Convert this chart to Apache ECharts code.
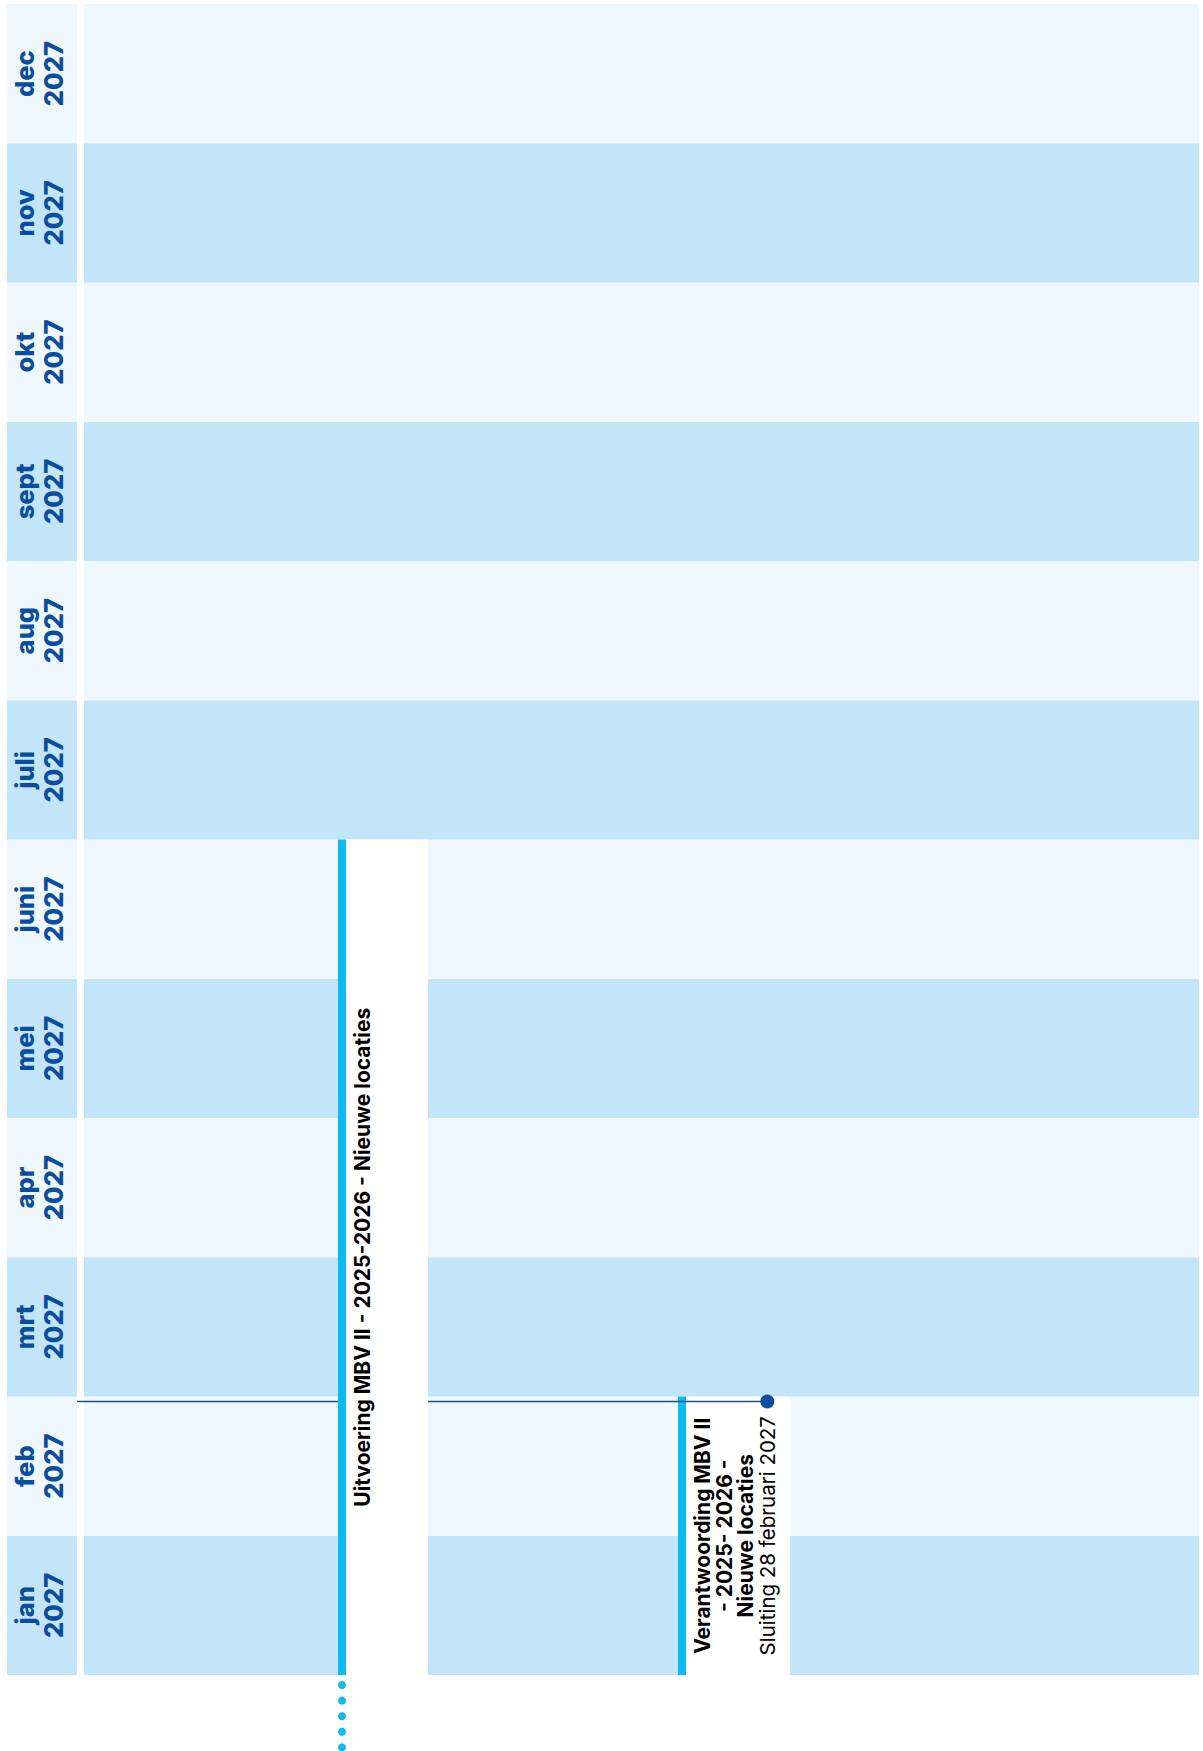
<!DOCTYPE html>
<html>
<head>
<meta charset="utf-8">
<title>Planning 2027</title>
<script src="https://cdn.jsdelivr.net/npm/echarts@6/dist/echarts.min.js"></script>
<style>
  html, body { margin: 0; padding: 0; background: #fff; }
  #main { width: 1203px; height: 1751px; }
</style>
</head>
<body>
<div id="main"></div>
<script>
// maanden op de verticale as (onderaan = jan)
const monthNames = ['jan', 'feb', 'mrt', 'apr', 'mei', 'juni', 'juli', 'aug', 'sept', 'okt', 'nov', 'dec'];
const year = 2027;

// taken
const taskTitles = [
  'Uitvoering MBV II - 2025-2026 - Nieuwe locaties',
  'Verantwoording MBV II\n- 2025- 2026 -\nNieuwe locaties'
];
const taskLanes = [0, 1];
const taskStarts = ['2025-09-01', '2027-01-01'];
const taskEnds = ['2027-06-30', '2027-02-28'];

// deadlines
const milestoneLabels = ['Sluiting 28 februari 2027'];
const milestoneDates = ['2027-02-28'];
const milestoneTasks = [1];

// stijl
const colors = {
  band: '#c2e5fa',
  bandLight: '#eff8fe',
  month: '#0a4d9f',
  bar: '#0bbbee',
  line: '#1d4f8f',
  dot: '#0b4ea2',
  text: '#000000'
};
const fontFamily = 'Inter, "Noto Sans", sans-serif';
const barWidth = 8;
const laneWidths = [82, 104];
const lineH = 21.5;

// datum -> positie op de as (1 eenheid = 1 maand)
function toValue(dateStr, endOfDay) {
  const p = dateStr.split('-').map(Number);
  const days = new Date(p[0], p[1], 0).getDate();
  return (p[0] - year) * 12 + (p[1] - 1) + (endOfDay ? p[2] : p[2] - 1) / days;
}

function hiddenValueAxis(extra) {
  return Object.assign({
    type: 'value',
    axisLine: { show: false },
    axisTick: { show: false },
    axisLabel: { show: false },
    splitLine: { show: false }
  }, extra);
}

const monthAxis = {
  min: 0,
  max: 12,
  interval: 1,
  splitArea: { show: true, areaStyle: { color: [colors.band, colors.bandLight] } }
};

function renderMonth(params, api) {
  const m = api.value(0);
  const c = api.coord([0.5, m + 0.5]);
  return {
    type: 'text',
    x: c[0] - 3,
    y: c[1],
    rotation: Math.PI / 2,
    style: {
      text: monthNames[m] + '\n' + year,
      fill: colors.month,
      font: '800 25.5px ' + fontFamily,
      lineHeight: 28.5,
      align: 'center',
      verticalAlign: 'middle'
    }
  };
}

function renderTask(params, api) {
  const i = api.value(0);
  const lane = taskLanes[i];
  const s = toValue(taskStarts[i], false);
  const e = toValue(taskEnds[i], true);
  const top = api.coord([lane, Math.min(e, 12)]);
  const bot = api.coord([lane, Math.max(s, 0)]);
  const x = top[0];
  const z = 100 - lane * 10;
  const children = [];

  // witte strook voor de tekst + balk
  children.push({
    type: 'rect',
    z2: z,
    shape: { x: x + barWidth, y: top[1], width: laneWidths[lane], height: bot[1] - top[1] },
    style: { fill: '#ffffff' }
  });
  children.push({
    type: 'rect',
    z2: z + 1,
    shape: { x: x, y: top[1], width: barWidth, height: bot[1] - top[1] },
    style: { fill: colors.bar }
  });

  // loopt door voor jan 2027
  if (s < 0) {
    for (let yy = bot[1] + 10; yy < api.getHeight() + 4; yy += 15.6) {
      children.push({
        type: 'circle',
        z2: z + 1,
        shape: { cx: x + barWidth / 2, cy: yy, r: 4 },
        style: { fill: colors.bar }
      });
    }
  }

  // tekst
  const lines = taskTitles[i].split('\n').map(function (l) { return '{b|' + l + '}'; });
  const textLeft = x + barWidth + 6;
  milestoneTasks.forEach(function (t, k) {
    if (t !== i) return;
    const idx = lines.length;
    lines.push('{r|' + milestoneLabels[k] + '}');
    const my = api.coord([lane, toValue(milestoneDates[k], false)])[1];
    const dx = textLeft + (idx + 0.5) * lineH;
    children.push({
      type: 'line',
      z2: z + 3,
      shape: { x1: params.coordSys.x - 7, y1: my, x2: dx, y2: my },
      style: { stroke: colors.line, lineWidth: 1.6 }
    });
    children.push({
      type: 'circle',
      z2: z + 4,
      shape: { cx: dx, cy: my, r: 7 },
      style: { fill: colors.dot }
    });
  });

  children.push({
    type: 'text',
    z2: z + 5,
    x: textLeft,
    y: (top[1] + bot[1]) / 2,
    rotation: Math.PI / 2,
    style: {
      text: lines.join('\n'),
      align: 'center',
      verticalAlign: 'top',
      rich: {
        b: { font: 'bold 21px ' + fontFamily, fill: colors.text, lineHeight: lineH, align: 'center' },
        r: { font: 'normal 20.5px ' + fontFamily, fill: colors.text, lineHeight: lineH, align: 'center' }
      }
    }
  });

  return { type: 'group', children: children };
}

const chart = echarts.init(document.getElementById('main'), null, { renderer: 'svg' });

chart.setOption({
  animation: false,
  backgroundColor: '#ffffff',
  grid: [
    { left: 84, right: 4, top: 4, bottom: 76 },
    { left: 7, width: 70, top: 4, bottom: 76 }
  ],
  xAxis: [
    hiddenValueAxis({ gridIndex: 0, min: -0.747, max: 2.532 }),
    hiddenValueAxis({ gridIndex: 1, min: 0, max: 1 })
  ],
  yAxis: [
    hiddenValueAxis(Object.assign({ gridIndex: 0 }, monthAxis)),
    hiddenValueAxis(Object.assign({ gridIndex: 1 }, monthAxis))
  ],
  series: [
    {
      type: 'custom',
      name: 'maanden',
      xAxisIndex: 1,
      yAxisIndex: 1,
      renderItem: renderMonth,
      data: monthNames.map(function (n, i) { return [i]; })
    },
    {
      type: 'custom',
      name: 'taken',
      xAxisIndex: 0,
      yAxisIndex: 0,
      clip: false,
      renderItem: renderTask,
      data: taskTitles.map(function (t, i) { return [i]; })
    }
  ]
});
</script>
</body>
</html>
